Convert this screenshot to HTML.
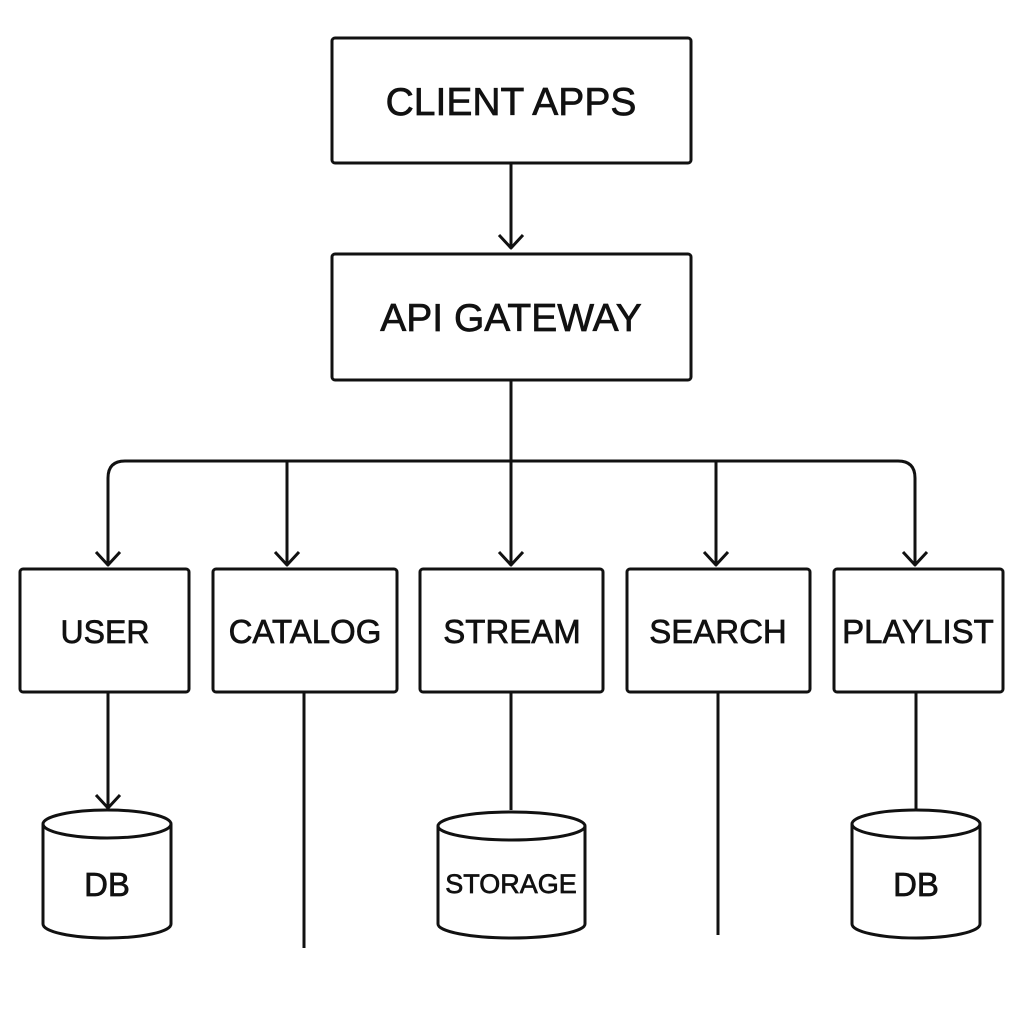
<!DOCTYPE html>
<html><head><meta charset="utf-8"><style>html,body{margin:0;padding:0;background:#fff}</style></head>
<body>
<svg width="1024" height="1024" viewBox="0 0 1024 1024" xmlns="http://www.w3.org/2000/svg">
<g fill="none" stroke="#111" stroke-width="3" stroke-linejoin="round">
<rect x="332" y="38" width="359" height="125" rx="3"/>
<rect x="332" y="254" width="359" height="126" rx="3"/>
<rect x="20" y="569" width="169" height="123" rx="3"/>
<rect x="213" y="569" width="184" height="123" rx="3"/>
<rect x="420" y="569" width="183" height="123" rx="3"/>
<rect x="627" y="569" width="183" height="123" rx="3"/>
<rect x="834" y="569" width="169" height="123" rx="3"/>
<path d="M511,163 V248" />
<path d="M499,235 L511,248 L523,235"/>
<path d="M511,380 V565"/>
<path d="M108,565 V478 Q108,461 125,461 H898 Q915,461 915,478 V565"/>
<path d="M287,461 V565"/>
<path d="M716,461 V565"/>
<path d="M96,552 L108,565 L120,552"/>
<path d="M275,552 L287,565 L299,552"/>
<path d="M499,552 L511,565 L523,552"/>
<path d="M704,552 L716,565 L728,552"/>
<path d="M903,552 L915,565 L927,552"/>
<path d="M108,692 V808"/>
<path d="M96,795 L108,808 L120,795"/>
<path d="M304,692 V948"/>
<path d="M511,692 V810"/>
<path d="M718,692 V935"/>
<path d="M916,692 V810"/>
<path d="M43,824 V924 A64,14 0 0 0 171,924 V824 A64,14 0 0 0 43,824 A64,14 0 0 0 171,824"/>
<path d="M438,826 V924 A73.5,14 0 0 0 585,924 V826 A73.5,14 0 0 0 438,826 A73.5,14 0 0 0 585,826"/>
<path d="M852,824 V924 A64,14 0 0 0 980,924 V824 A64,14 0 0 0 852,824 A64,14 0 0 0 980,824"/>
</g>
<g font-family="Liberation Sans, Arial, sans-serif" fill="#111" stroke="#111" stroke-width="0.7" text-anchor="middle">
<text x="511" y="115" font-size="39">CLIENT APPS</text>
<text x="511" y="331" font-size="39">API GATEWAY</text>
<text x="105" y="643" font-size="32">USER</text>
<text x="305" y="643" font-size="33">CATALOG</text>
<text x="512" y="643" font-size="33">STREAM</text>
<text x="718" y="643" font-size="33">SEARCH</text>
<text x="918" y="643" font-size="33">PLAYLIST</text>
<text x="107" y="896" font-size="33">DB</text>
<text x="511" y="893" font-size="27">STORAGE</text>
<text x="916" y="896" font-size="33">DB</text>
</g>
</svg>
</body></html>
